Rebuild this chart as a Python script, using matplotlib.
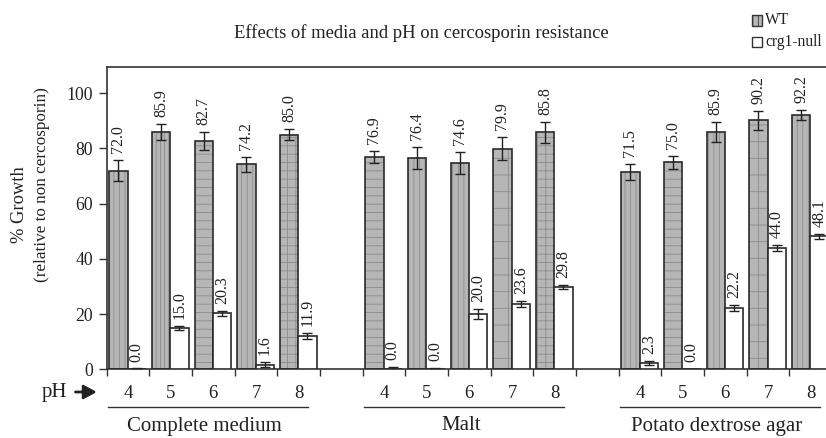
import matplotlib
matplotlib.use("Agg")
import matplotlib.pyplot as plt
import matplotlib.transforms as mtransforms
import numpy as np

plt.rcParams['font.family'] = ['Liberation Serif', 'DejaVu Serif']
plt.rcParams['hatch.linewidth'] = 0.6

media = ["Complete medium", "Malt", "Potato dextrose agar"]
ph_labels = ["4", "5", "6", "7", "8"]
wt_values = [[72.0, 85.9, 82.7, 74.2, 85.0],
             [76.9, 76.4, 74.6, 79.9, 85.8],
             [71.5, 75.0, 85.9, 90.2, 92.2]]
wt_err = [[3.9, 3.0, 3.3, 2.8, 2.0],
          [2.3, 4.0, 4.0, 4.2, 3.7],
          [2.8, 2.3, 3.6, 3.4, 1.8]]
null_values = [[0.0, 15.0, 20.3, 1.6, 11.9],
               [0.0, 0.0, 20.0, 23.6, 29.8],
               [2.3, 0.0, 22.2, 44.0, 48.1]]
null_err = [[0.3, 0.8, 0.9, 0.9, 1.1],
            [0.9, 0.5, 1.7, 1.0, 0.7],
            [0.6, 0.0, 1.0, 1.0, 0.8]]
wt_hatch = [['|||', '||||', '--', '|||', '++'],
            ['--', '|||', '|||', '+', '++'],
            ['|||', '--', '|||', '+', '|||']]

W, H = 826, 438
fig = plt.figure(figsize=(W / 100, H / 100), dpi=100)
ax = fig.add_axes([106.7 / W, 68.7 / H, 725.3 / W, 302.6 / H])
ax.set_xlim(0, 17)
ax.set_ylim(0, 109.6)

bw = 0.43
for g in range(3):
    for k in range(5):
        slot = g * 6 + k
        xw = slot + 0.49 - bw / 2
        xn = slot + 0.49 + bw / 2
        ax.bar(xw, wt_values[g][k], bw, color='#b6b6b6', edgecolor='#8c8c8c',
               hatch=wt_hatch[g][k], linewidth=0, zorder=2)
        ax.bar(xw, wt_values[g][k], bw, facecolor='none', edgecolor='#2a2a2a',
               linewidth=1.2, zorder=3)
        ax.bar(xn, null_values[g][k], bw, facecolor='white', edgecolor='#2a2a2a',
               linewidth=1.2, zorder=3)
        ax.errorbar(xw, wt_values[g][k], yerr=wt_err[g][k], fmt='none',
                    ecolor='#222222', elinewidth=1.0, capsize=3.5, capthick=1.0, zorder=4)
        if null_err[g][k] > 0:
            ax.errorbar(xn, null_values[g][k], yerr=null_err[g][k], fmt='none',
                        ecolor='#222222', elinewidth=1.0, capsize=3.5, capthick=1.0, zorder=4)
        for x, v, e in ((xw, wt_values[g][k], wt_err[g][k]),
                        (xn, null_values[g][k], null_err[g][k])):
            ax.annotate(f"{v:.1f}", (x, v + e), xytext=(0, 5), textcoords='offset points',
                        rotation=90, ha='center', va='bottom', fontsize=11.5,
                        color='#222222')

ax.spines['right'].set_visible(False)
for s in ('left', 'top', 'bottom'):
    ax.spines[s].set_color('#333333')
    ax.spines[s].set_linewidth(1.2)
ax.set_yticks([0, 20, 40, 60, 80, 100])
ax.tick_params(axis='y', direction='out', length=6, width=1, colors='#333333',
               labelsize=12.8, labelcolor='#222222', pad=4)
ax.set_xticks(np.arange(0, 18))
ax.set_xticklabels([])
ax.tick_params(axis='x', direction='out', length=5, width=1, colors='#333333')

trans = mtransforms.blended_transform_factory(ax.transData, fig.transFigure)
for g in range(3):
    for k in range(5):
        slot = g * 6 + k
        ax.text(slot + 0.5, 1 - 393 / H, ph_labels[k], transform=trans,
                ha='center', va='center', fontsize=13.5, color='#222222')
    start = g * 6
    ax.plot([start + 0.03, start + 5 - 0.28], [1 - 406.7 / H] * 2, transform=trans,
            color='#333333', linewidth=1.0, clip_on=False)
    ax.text(start + 2.3, 1 - 426 / H, media[g], transform=trans,
            ha='center', va='center', fontsize=15, color='#222222')

fig.text(41.7 / W, 1 - 393 / H, "pH", ha='left', va='center', fontsize=15, color='#222222')
fig.add_artist(matplotlib.patches.FancyArrowPatch(
    (72.7 / W, 1 - 392 / H), (99.5 / W, 1 - 392 / H), transform=fig.transFigure,
    arrowstyle='-|>,head_length=0.55,head_width=0.3', mutation_scale=14,
    color='#222222', linewidth=2.0))

fig.text(19 / W, 1 - 205 / H, "% Growth", rotation=90, ha='center', va='center',
         fontsize=13.3, color='#222222')
fig.text(42 / W, 1 - 185 / H, "(relative to non cercosporin)", rotation=90,
         ha='center', va='center', fontsize=12.3, color='#222222')

fig.text(421 / W, 1 - 33 / H, "Effects of media and pH on cercosporin resistance",
         ha='center', va='center', fontsize=13.4, color='#222222')

for i, (lab, fc, hatch) in enumerate((("WT", '#b6b6b6', '|||'), ("crg1-null", 'white', None))):
    yc = 1 - (20.5 + 21.5 * i) / H
    fig.patches.append(matplotlib.patches.Rectangle(
        (752 / W, yc - 5 / H), 10 / W, 10 / H, transform=fig.transFigure,
        facecolor=fc, edgecolor='#333333', linewidth=1.0, hatch=hatch))
    fig.text(765 / W, yc, lab, ha='left', va='center', fontsize=11.2, color='#222222')

fig.savefig("out.png", dpi=100)
